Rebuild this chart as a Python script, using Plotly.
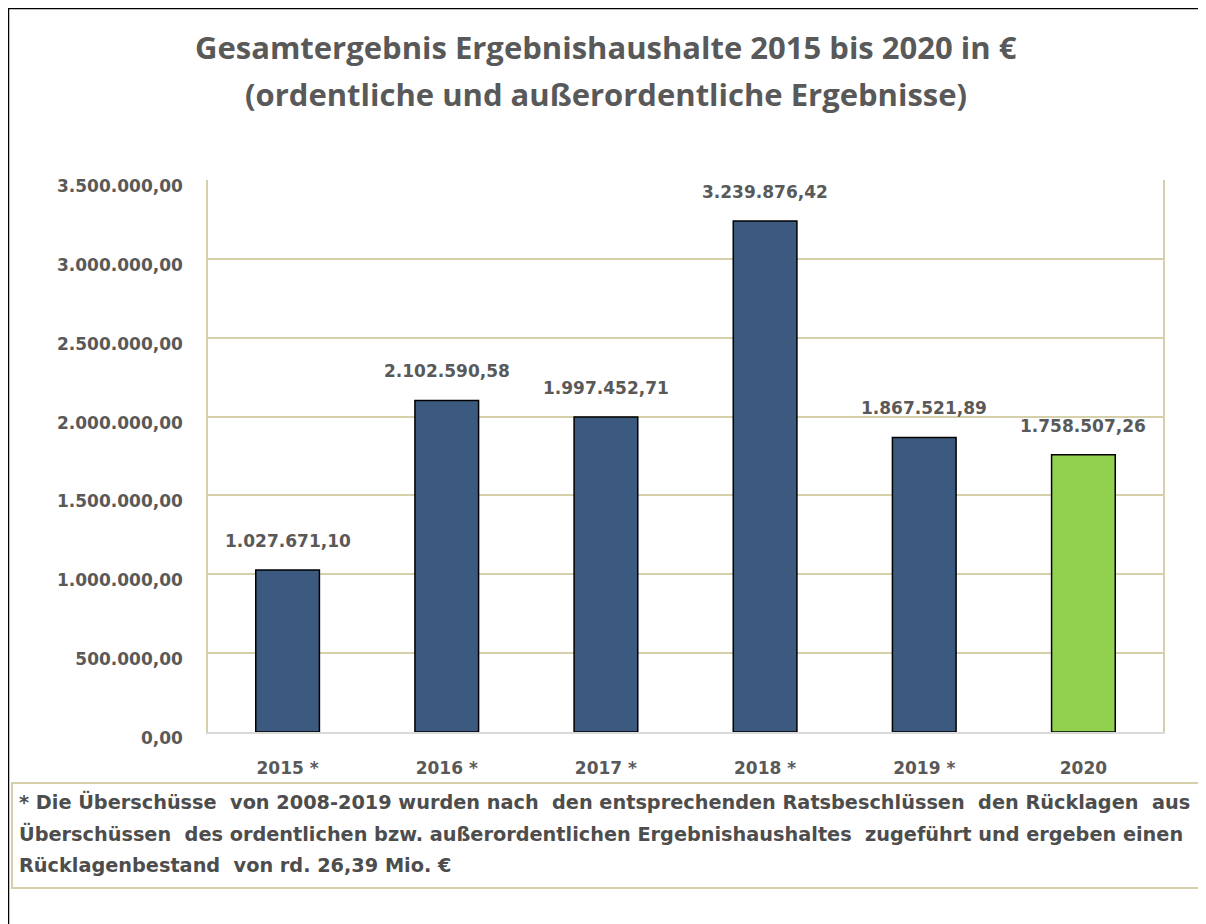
import plotly.graph_objects as go

categories = ["2015 *", "2016 *", "2017 *", "2018 *", "2019 *", "2020"]
values = [1027671.10, 2102590.58, 1997452.71, 3239876.42, 1867521.89, 1758507.26]
bar_colors = ["#3C5A80", "#3C5A80", "#3C5A80", "#3C5A80", "#3C5A80", "#92D050"]
tick_vals = [0, 500000, 1000000, 1500000, 2000000, 2500000, 3000000, 3500000]

OFF = 8  # page body margin
W, H = 1206 - OFF, 924 - OFF
L, R, T, B = 208 - OFF, 1163 - OFF, 180 - OFF, 732 - OFF

def px(x):
    return (x - OFF - L) / (R - L)

def py(y):
    return (B - (y - OFF)) / (B - T)

FONT = "DejaVu Sans"
GRAY = "#595959"
TAN = "#D6D0AA"

def de_fmt(v):
    return f"{v:,.2f}".replace(",", "X").replace(".", ",").replace("X", ".")

idx = list(range(len(categories)))

fig = go.Figure(go.Bar(
    x=idx, y=values, width=0.4,
    marker=dict(color=bar_colors, line=dict(color="#000000", width=1.5)),
    customdata=categories, hovertemplate="%{customdata}: %{y:,.2f}<extra></extra>",
))

for i, v in zip(idx, values):
    fig.add_annotation(x=i, y=v, xref="x", yref="y", text=de_fmt(v),
                       showarrow=False, yanchor="bottom", xanchor="center", yshift=17,
                       font=dict(family=FONT, size=17, color=GRAY, weight=600))

fig.update_layout(
    width=W, height=H,
    margin=dict(l=L, r=W - R, t=T, b=H - B),
    paper_bgcolor="white", plot_bgcolor="white",
    separators=",.",
    showlegend=False,
    font=dict(family=FONT, color=GRAY),
)
fig.update_yaxes(
    range=[0, 3500000], tickvals=tick_vals, tickformat=",.2f",
    showgrid=True, gridcolor=TAN, gridwidth=1.5,
    showline=True, linecolor=TAN, linewidth=1.5, mirror=True,
    zeroline=False, ticks="", ticklabelstandoff=20, ticklabelshift=6,
    tickfont=dict(family=FONT, size=17, color=GRAY, weight=600),
)
fig.update_xaxes(
    range=[-0.5, len(categories) - 0.5], tickvals=idx, ticktext=categories,
    showgrid=False, zeroline=False,
    showline=True, linecolor="#D9D9D9", linewidth=1.5,
    ticks="", ticklabelstandoff=20,
    tickfont=dict(family=FONT, size=17, color=GRAY, weight=600),
)

# title
fig.add_annotation(x=px(606), y=py(47), xref="paper", yref="paper",
                   xanchor="center", yanchor="middle",
                   text="<b>Gesamtergebnis Ergebnishaushalte 2015 bis 2020 in €</b>",
                   showarrow=False, font=dict(family="Open Sans", size=31, color=GRAY))
fig.add_annotation(x=px(606), y=py(94), xref="paper", yref="paper",
                   xanchor="center", yanchor="middle",
                   text="<b>(ordentliche und außerordentliche Ergebnisse)</b>",
                   showarrow=False, font=dict(family="Open Sans", size=31, color=GRAY))

# footnote box
fig.add_shape(type="rect", xref="paper", yref="paper",
              x0=px(12), x1=px(1220), y0=py(783), y1=py(888),
              line=dict(color=TAN, width=2), fillcolor="rgba(0,0,0,0)")
foot = ["* Die Überschüsse  von 2008-2019 wurden nach  den entsprechenden Ratsbeschlüssen  den Rücklagen  aus",
        "Überschüssen  des ordentlichen bzw. außerordentlichen Ergebnishaushaltes  zugeführt und ergeben einen",
        "Rücklagenbestand  von rd. 26,39 Mio. €"]
for i, line in enumerate(foot):
    fig.add_annotation(x=px(17), y=py(802 + 31.5 * i), xref="paper", yref="paper",
                       xanchor="left", yanchor="middle", text=line, showarrow=False,
                       font=dict(family=FONT, size=19.3, color="#4D4D4D", weight=600))

# outer frame lines
fig.add_shape(type="line", xref="paper", yref="paper",
              x0=px(8), x1=px(8), y0=py(7), y1=py(930),
              line=dict(color="#000000", width=2.5))
fig.add_shape(type="line", xref="paper", yref="paper",
              x0=px(7), x1=px(1215), y0=py(8), y1=py(8),
              line=dict(color="#000000", width=2.5))

fig.write_html("out.html")
